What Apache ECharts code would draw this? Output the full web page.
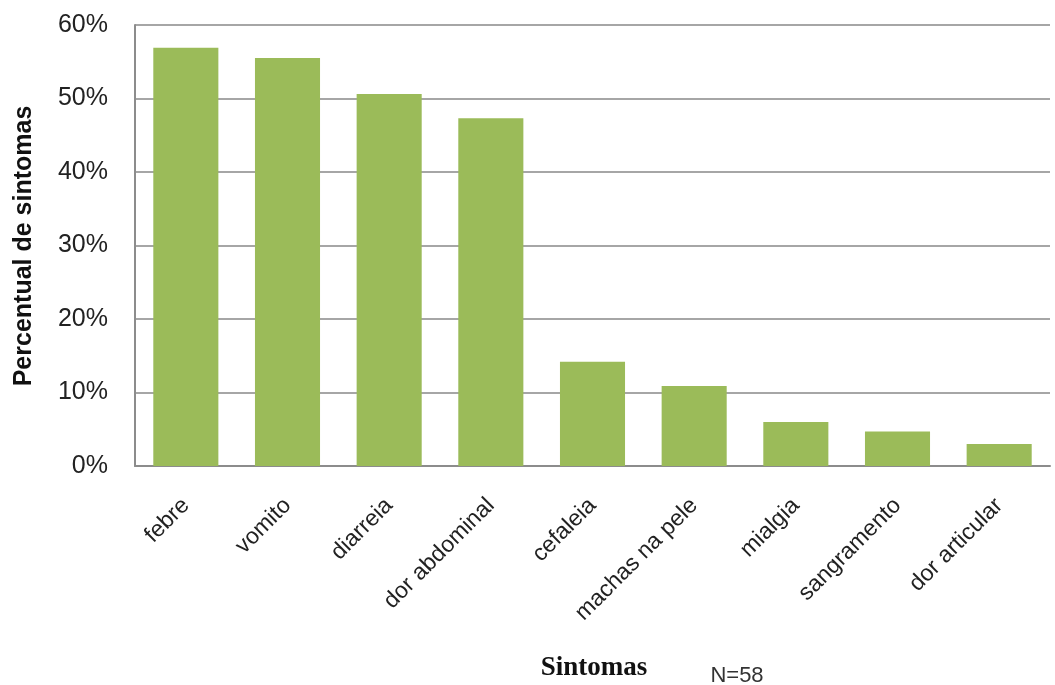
<!DOCTYPE html>
<html>
<head>
<meta charset="utf-8">
<style>
  html, body { margin: 0; padding: 0; background: #ffffff; }
  #chart { width: 1055px; height: 685px; }
</style>
<script src="https://cdn.jsdelivr.net/npm/echarts@6/dist/echarts.min.js"></script>
</head>
<body>
<div id="chart"></div>
<script>
// Symptom categories and their share of cases (percent), N = 58
const categories = ['febre', 'vomito', 'diarreia', 'dor abdominal', 'cefaleia',
                    'machas na pele', 'mialgia', 'sangramento', 'dor articular'];
const percentValues = [56.9, 55.5, 50.6, 47.3, 14.2, 10.9, 6.0, 4.7, 3.0];
const yTicks = { min: 0, max: 60, interval: 10 };
const yTitle = 'Percentual de sintomas';
const xTitle = 'Sintomas';
const sampleNote = 'N=58';

const chart = echarts.init(document.getElementById('chart'), null, { renderer: 'canvas' });

chart.setOption({
  animation: false,
  backgroundColor: '#ffffff',
  grid: { left: 135, right: 5, top: 25, bottom: 219, containLabel: false },
  xAxis: {
    type: 'category',
    data: categories,
    axisLine: { show: true, lineStyle: { color: '#8c8c8c', width: 2 } },
    axisTick: { show: false },
    axisLabel: {
      rotate: 45,
      margin: 36,
      interval: 0,
      color: '#222222',
      fontFamily: 'Liberation Sans, Arial, sans-serif',
      fontSize: 23
    }
  },
  yAxis: {
    type: 'value',
    min: yTicks.min,
    max: yTicks.max,
    interval: yTicks.interval,
    axisLine: { show: true, lineStyle: { color: '#8c8c8c', width: 2 } },
    axisTick: { show: false },
    splitLine: { show: true, lineStyle: { color: '#a6a6a6', width: 2 } },
    axisLabel: {
      formatter: '{value}%',
      margin: 27,
      color: '#222222',
      fontFamily: 'Liberation Sans, Arial, sans-serif',
      fontSize: 25
    }
  },
  series: [{
    type: 'bar',
    data: percentValues,
    barCategoryGap: '36%',
    itemStyle: { color: '#9bbb59' }
  }],
  graphic: [
    {
      type: 'text',
      x: 24,
      y: 246,
      rotation: Math.PI / 2,
      style: {
        text: yTitle,
        align: 'center',
        verticalAlign: 'middle',
        fill: '#111111',
        font: 'bold 25px "Liberation Sans", Arial, sans-serif'
      }
    },
    {
      type: 'text',
      x: 594,
      y: 668,
      style: {
        text: xTitle,
        align: 'center',
        verticalAlign: 'middle',
        fill: '#111111',
        font: 'bold 27px "Liberation Serif", "Times New Roman", serif'
      }
    },
    {
      type: 'text',
      x: 737,
      y: 676,
      style: {
        text: sampleNote,
        align: 'center',
        verticalAlign: 'middle',
        fill: '#333333',
        font: '22px "Liberation Sans", Arial, sans-serif'
      }
    }
  ]
});
</script>
</body>
</html>
